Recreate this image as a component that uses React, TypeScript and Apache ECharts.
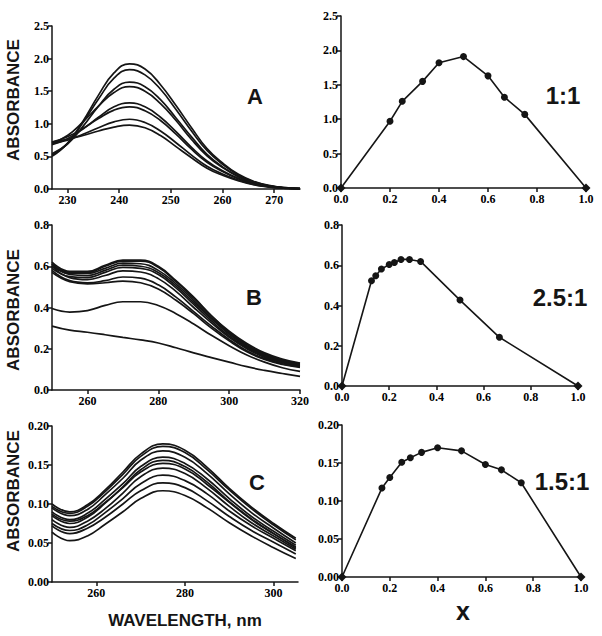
import React, { useEffect, useRef } from "react";
import * as echarts from "echarts";

// ---------- Panel A (spectra) ----------
const A_wavelength = [227, 230, 233, 236, 239, 242, 245, 248, 251, 254, 257, 260, 263, 266, 269, 272, 275];
const A_curve1 = [0.50, 0.70, 1.04, 1.44, 1.78, 1.92, 1.84, 1.60, 1.28, 0.94, 0.62, 0.40, 0.23, 0.12, 0.055, 0.021, 0.008];
const A_curve2 = [0.52, 0.70, 1.02, 1.38, 1.70, 1.83, 1.75, 1.53, 1.22, 0.89, 0.59, 0.38, 0.22, 0.11, 0.05, 0.02, 0.007];
const A_curve3 = [0.54, 0.69, 0.96, 1.27, 1.53, 1.64, 1.57, 1.37, 1.09, 0.80, 0.53, 0.34, 0.20, 0.10, 0.048, 0.018, 0.007];
const A_curve4 = [0.70, 0.82, 1.03, 1.27, 1.48, 1.57, 1.50, 1.31, 1.05, 0.76, 0.51, 0.33, 0.19, 0.098, 0.046, 0.017, 0.006];
const A_curve5 = [0.68, 0.77, 0.92, 1.10, 1.26, 1.32, 1.26, 1.10, 0.88, 0.64, 0.43, 0.28, 0.165, 0.084, 0.039, 0.015, 0.005];
const A_curve6 = [0.72, 0.80, 0.93, 1.08, 1.21, 1.26, 1.20, 1.05, 0.84, 0.61, 0.41, 0.27, 0.159, 0.081, 0.038, 0.014, 0.005];
const A_curve7 = [0.70, 0.75, 0.84, 0.94, 1.03, 1.07, 1.02, 0.89, 0.71, 0.52, 0.35, 0.23, 0.138, 0.07, 0.033, 0.012, 0.004];
const A_curve8 = [0.72, 0.76, 0.82, 0.89, 0.95, 0.98, 0.94, 0.82, 0.65, 0.48, 0.32, 0.21, 0.128, 0.065, 0.03, 0.011, 0.004];
const A_curves = [A_curve1, A_curve2, A_curve3, A_curve4, A_curve5, A_curve6, A_curve7, A_curve8];
const A_xTicks = [230, 240, 250, 260, 270];

// ---------- Panel B (spectra) ----------
const B_wavelength = [250, 255, 260, 265, 270, 275, 280, 285, 290, 295, 300, 305, 310, 315, 320];
const B_curve1 = [0.62, 0.575, 0.575, 0.605, 0.63, 0.63, 0.60, 0.53, 0.45, 0.36, 0.285, 0.225, 0.18, 0.15, 0.13];
const B_curve2 = [0.61, 0.57, 0.57, 0.60, 0.625, 0.625, 0.595, 0.525, 0.445, 0.36, 0.28, 0.22, 0.175, 0.145, 0.128];
const B_curve3 = [0.60, 0.565, 0.565, 0.59, 0.615, 0.612, 0.58, 0.515, 0.435, 0.35, 0.275, 0.215, 0.172, 0.142, 0.125];
const B_curve4 = [0.61, 0.56, 0.555, 0.58, 0.605, 0.60, 0.57, 0.505, 0.425, 0.345, 0.27, 0.21, 0.168, 0.14, 0.123];
const B_curve5 = [0.59, 0.55, 0.545, 0.57, 0.595, 0.59, 0.56, 0.495, 0.415, 0.335, 0.262, 0.205, 0.163, 0.136, 0.12];
const B_curve6 = [0.60, 0.545, 0.535, 0.555, 0.578, 0.572, 0.54, 0.478, 0.40, 0.325, 0.255, 0.20, 0.158, 0.132, 0.117];
const B_curve7 = [0.58, 0.53, 0.52, 0.53, 0.548, 0.542, 0.51, 0.45, 0.38, 0.31, 0.245, 0.19, 0.152, 0.127, 0.113];
const B_curve8 = [0.57, 0.525, 0.515, 0.52, 0.528, 0.52, 0.49, 0.435, 0.37, 0.30, 0.238, 0.185, 0.148, 0.124, 0.11];
const B_curve9 = [0.395, 0.378, 0.385, 0.41, 0.428, 0.428, 0.41, 0.37, 0.32, 0.265, 0.215, 0.17, 0.135, 0.108, 0.09];
const B_curve10 = [0.31, 0.29, 0.28, 0.268, 0.255, 0.243, 0.228, 0.205, 0.18, 0.157, 0.135, 0.113, 0.095, 0.08, 0.066];
const B_curves = [B_curve1, B_curve2, B_curve3, B_curve4, B_curve5, B_curve6, B_curve7, B_curve8, B_curve9, B_curve10];
const B_xTicks = [260, 280, 300, 320];

// ---------- Panel C (spectra) ----------
const C_wavelength = [250, 254, 258, 262, 266, 270, 275, 280, 285, 290, 295, 300, 305];
const C_curve1 = [0.100, 0.090, 0.099, 0.118, 0.141, 0.164, 0.177, 0.169, 0.147, 0.120, 0.096, 0.075, 0.056];
const C_curve2 = [0.097, 0.088, 0.097, 0.116, 0.138, 0.161, 0.174, 0.166, 0.144, 0.118, 0.094, 0.073, 0.054];
const C_curve3 = [0.095, 0.085, 0.093, 0.112, 0.133, 0.156, 0.168, 0.160, 0.139, 0.113, 0.089, 0.069, 0.050];
const C_curve4 = [0.090, 0.080, 0.088, 0.106, 0.126, 0.148, 0.160, 0.152, 0.132, 0.107, 0.084, 0.065, 0.047];
const C_curve5 = [0.085, 0.075, 0.083, 0.101, 0.122, 0.144, 0.156, 0.148, 0.128, 0.103, 0.081, 0.062, 0.044];
const C_curve6 = [0.087, 0.078, 0.085, 0.102, 0.121, 0.141, 0.152, 0.145, 0.125, 0.102, 0.080, 0.062, 0.045];
const C_curve7 = [0.080, 0.070, 0.078, 0.094, 0.114, 0.135, 0.146, 0.139, 0.120, 0.097, 0.076, 0.059, 0.042];
const C_curve8 = [0.075, 0.066, 0.073, 0.089, 0.107, 0.126, 0.137, 0.130, 0.113, 0.091, 0.072, 0.056, 0.040];
const C_curve9 = [0.072, 0.062, 0.069, 0.083, 0.100, 0.117, 0.127, 0.121, 0.104, 0.084, 0.066, 0.051, 0.036];
const C_curve10 = [0.064, 0.053, 0.059, 0.074, 0.090, 0.107, 0.117, 0.111, 0.095, 0.076, 0.059, 0.044, 0.030];
const C_curves = [C_curve1, C_curve2, C_curve3, C_curve4, C_curve5, C_curve6, C_curve7, C_curve8, C_curve9, C_curve10];
const C_xTicks = [260, 280, 300];

// ---------- Job plots ----------
const jobA_x = [0, 0.2, 0.25, 0.333, 0.4, 0.5, 0.6, 0.667, 0.75, 1.0];
const jobA_y = [0, 0.97, 1.26, 1.55, 1.82, 1.91, 1.63, 1.32, 1.07, 0];
const jobB_x = [0, 0.125, 0.143, 0.167, 0.2, 0.222, 0.25, 0.286, 0.333, 0.5, 0.667, 1.0];
const jobB_y = [0, 0.523, 0.548, 0.581, 0.604, 0.614, 0.629, 0.629, 0.619, 0.427, 0.242, 0];
const jobC_x = [0, 0.167, 0.2, 0.25, 0.286, 0.333, 0.4, 0.5, 0.6, 0.667, 0.75, 1.0];
const jobC_y = [0, 0.117, 0.131, 0.151, 0.157, 0.164, 0.170, 0.166, 0.148, 0.141, 0.124, 0];

const INK = "#151515";
const SERIF = '"Liberation Serif", "DejaVu Serif", serif';
const SANS = "Liberation Sans";

function App() {
  const ref = useRef<HTMLDivElement>(null);

  useEffect(() => {
    if (!ref.current) return;
    const chart = echarts.init(ref.current, null, { renderer: "svg" });

    const grids = [
      { left: 52, top: 26, width: 248, height: 163 },
      { left: 341, top: 16, width: 245, height: 172 },
      { left: 52, top: 225, width: 248, height: 165 },
      { left: 342, top: 225, width: 236, height: 161 },
      { left: 52, top: 426, width: 246, height: 156 },
      { left: 342, top: 425, width: 239, height: 152 },
    ].map((g) => ({ ...g, outerBoundsMode: "none", containLabel: false }));

    const axisBase = (gridIndex: number, margin: number) => ({
      gridIndex,
      type: "value",
      axisLine: { show: true, onZero: false, lineStyle: { color: INK, width: 1.5 } },
      axisTick: { show: true, length: 4, lineStyle: { color: INK, width: 1.5 } },
      axisLabel: {
        fontFamily: SERIF,
        fontWeight: "bold",
        fontSize: 12,
        color: "#000",
        margin,
      },
      splitLine: { show: false },
    });

    const specX = (gridIndex: number, min: number, max: number, ticks: number[]) => {
      const b: any = axisBase(gridIndex, 5);
      return {
        ...b,
        min,
        max,
        axisTick: { ...b.axisTick, customValues: ticks },
        axisLabel: { ...b.axisLabel, customValues: ticks, formatter: (v: number) => String(Math.round(v)) },
      };
    };
    const yAx = (gridIndex: number, max: number, interval: number, digits: number) => {
      const b: any = axisBase(gridIndex, 3);
      return {
        ...b,
        min: 0,
        max,
        interval,
        axisLabel: { ...b.axisLabel, formatter: (v: number) => v.toFixed(digits) },
      };
    };
    const jobX = (gridIndex: number) => {
      const b: any = axisBase(gridIndex, 5);
      return {
        ...b,
        min: 0,
        max: 1,
        interval: 0.2,
        axisLabel: { ...b.axisLabel, formatter: (v: number) => v.toFixed(1) },
      };
    };

    const xAxis = [
      specX(0, 227, 275, A_xTicks),
      jobX(1),
      specX(2, 250, 320, B_xTicks),
      jobX(3),
      specX(4, 250, 305.5, C_xTicks),
      jobX(5),
    ];
    const yAxis = [
      yAx(0, 2.5, 0.5, 1),
      yAx(1, 2.5, 0.5, 1),
      yAx(2, 0.8, 0.2, 1),
      yAx(3, 0.8, 0.2, 1),
      yAx(4, 0.2, 0.05, 2),
      yAx(5, 0.2, 0.05, 2),
    ];

    const series: any[] = [];
    const addSpectra = (idx: number, wl: number[], curves: number[][]) => {
      curves.forEach((c) => {
        series.push({
          type: "line",
          xAxisIndex: idx,
          yAxisIndex: idx,
          data: wl.map((w, i) => [w, c[i]]),
          smooth: 0.45,
          showSymbol: false,
          symbol: "none",
          lineStyle: { color: INK, width: 1.7 },
          silent: true,
        });
      });
    };
    const addJob = (idx: number, xs: number[], ys: number[]) => {
      series.push({
        type: "line",
        xAxisIndex: idx,
        yAxisIndex: idx,
        data: xs.map((x, i) =>
          i === 0 || i === xs.length - 1
            ? { value: [x, ys[i]], symbol: "diamond", symbolSize: 9 }
            : [x, ys[i]]
        ),
        symbol: "circle",
        symbolSize: 7,
        showSymbol: true,
        itemStyle: { color: INK, borderWidth: 0 },
        lineStyle: { color: INK, width: 1.6 },
        clip: false,
        silent: true,
      });
    };
    addSpectra(0, A_wavelength, A_curves);
    addJob(1, jobA_x, jobA_y);
    addSpectra(2, B_wavelength, B_curves);
    addJob(3, jobB_x, jobB_y);
    addSpectra(4, C_wavelength, C_curves);
    addJob(5, jobC_x, jobC_y);

    const label = (text: string, x: number, y: number, size: number, rotation = 0) => ({
      type: "text",
      x,
      y,
      rotation,
      style: {
        text,
        font: `bold ${size}px "${SANS}"`,
        fill: INK,
        textAlign: "center",
        textVerticalAlign: "middle",
        align: "center",
        verticalAlign: "middle",
      },
      silent: true,
    });

    const graphic = [
      label("ABSORBANCE", 13, 100, 17, Math.PI / 2),
      label("ABSORBANCE", 13, 310, 17, Math.PI / 2),
      label("ABSORBANCE", 13, 491, 17, Math.PI / 2),
      label("A", 255, 96, 22),
      label("B", 254, 297, 22),
      label("C", 257, 482, 22),
      label("1:1", 563, 95, 24),
      label("2.5:1", 560, 297, 24),
      label("1.5:1", 562, 481, 24),
      label("WAVELENGTH, nm", 185, 620, 17),
      label("x", 463, 611, 25),
    ];

    chart.setOption({
      animation: false,
      backgroundColor: "#ffffff",
      grid: grids,
      xAxis,
      yAxis,
      series,
      graphic,
    } as any);

    return () => chart.dispose();
  }, []);

  return (
    <div
      ref={ref}
      style={{ position: "absolute", left: 0, top: 0, width: 602, height: 636, background: "#fff" }}
    />
  );
}

export default App;
